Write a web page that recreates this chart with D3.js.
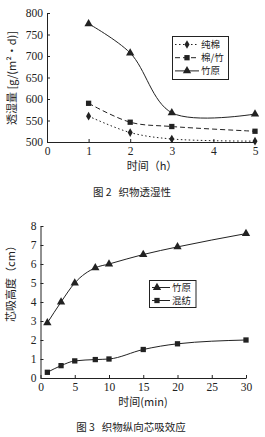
<!DOCTYPE html>
<html><head><meta charset="utf-8">
<script src="https://cdn.jsdelivr.net/npm/d3@7"></script>
<style>body{margin:0;background:#fff}svg{display:block}</style>
</head><body>
<script>
// Chart 1 data
const hours = [1, 2, 3, 5];
const cotton = [560, 522, 507, 502];        // 纯棉
const cottonBamboo = [590, 546, 536, 525];  // 棉/竹
const bamboo1 = [775, 707, 568, 565];       // 竹原
const xTicks1 = [0, 1, 2, 3, 4, 5];
const yTicks1 = [500, 550, 600, 650, 700, 750, 800];
// Chart 2 data
const minutes = [1, 3, 5, 8, 10, 15, 20, 30];
const bamboo2 = [2.9, 4.0, 5.0, 5.8, 6.0, 6.5, 6.9, 7.6]; // 竹原
const blend = [0.3, 0.65, 0.9, 0.97, 1.0, 1.5, 1.8, 2.0];  // 混纺
const xTicks2 = [0, 5, 10, 15, 20, 25, 30];
const yTicks2 = [0, 1, 2, 3, 4, 5, 6, 7, 8];

const W = 265, H = 437;
const svg = d3.select("body").append("svg").attr("width", W).attr("height", H);
svg.append("rect").attr("width", W).attr("height", H).attr("fill", "#fff");
const ink = "#222";
const numFont = "'Liberation Serif', 'DejaVu Serif', serif";
const cjkFont = "'Noto Sans CJK SC', sans-serif";

function marker(g, type, x, y) {
  const s = type === "diamond" ? d3.symbolDiamond : type === "square" ? d3.symbolSquare : d3.symbolTriangle;
  const size = type === "diamond" ? 22 : type === "square" ? 28 : 30;
  g.append("path").attr("d", d3.symbol().type(s).size(size)())
    .attr("transform", `translate(${x},${y})`).attr("fill", ink);
}

function axes(g, x, y, xt, yt) {
  const ax = g.append("g").attr("transform", `translate(0,${y.range()[0]})`)
    .call(d3.axisBottom(x).tickValues(xt).tickFormat(d3.format("d")).tickSize(-3).tickSizeOuter(0).tickPadding(5));
  const ay = g.append("g").attr("transform", `translate(${x.range()[0]},0)`)
    .call(d3.axisLeft(y).tickValues(yt).tickFormat(d3.format("d")).tickSize(-3).tickSizeOuter(0).tickPadding(4));
  [ax, ay].forEach(a => {
    a.select(".domain").attr("stroke", ink).attr("stroke-width", 1);
    a.selectAll(".tick line").attr("stroke", ink);
    a.selectAll("text").attr("fill", ink).style("font-family", numFont).style("font-size", "11.5px");
  });
}

function label(g, x, y, txt, size, rot) {
  const t = g.append("text").attr("text-anchor", "middle")
    .style("font-family", cjkFont).style("font-size", size + "px").style("white-space", "pre")
    .attr("fill", ink).text(txt);
  if (rot) t.attr("transform", `translate(${x},${y}) rotate(-90)`);
  else t.attr("x", x).attr("y", y);
  return t;
}

// ---------- Chart 1 ----------
{
  const g = svg.append("g");
  const x = d3.scaleLinear().domain([0, 5]).range([47, 255]);
  const y = d3.scaleLinear().domain([500, 800]).range([142, 13]);
  axes(g, x, y, xTicks1, yTicks1);
  const series = [
    {name: "纯棉", vals: cotton, m: "diamond", dash: "1.5,2.5"},
    {name: "棉/竹", vals: cottonBamboo, m: "square", dash: "5,3"},
    {name: "竹原", vals: bamboo1, m: "triangle", dash: null}
  ];
  const line = d3.line().curve(d3.curveCatmullRom.alpha(0.5)).x((d, i) => x(hours[i])).y(d => y(d));
  series.forEach(s => {
    g.append("path").attr("d", line(s.vals)).attr("fill", "none").attr("stroke", ink)
      .attr("stroke-width", 1).attr("stroke-dasharray", s.dash);
    s.vals.forEach((v, i) => marker(g, s.m, x(hours[i]), y(v)));
  });
  // legend
  const lg = g.append("g");
  lg.append("rect").attr("x", 172.5).attr("y", 36.5).attr("width", 56).attr("height", 43)
    .attr("fill", "#fff").attr("stroke", ink).attr("stroke-width", 1);
  series.forEach((s, i) => {
    const yy = 44.5 + i * 13.2;
    lg.append("line").attr("x1", 175).attr("x2", 199).attr("y1", yy).attr("y2", yy)
      .attr("stroke", ink).attr("stroke-dasharray", s.dash);
    marker(lg, s.m, 187, yy);
    lg.append("text").attr("x", 201).attr("y", yy + 3.3).text(s.name)
      .style("font-family", cjkFont).style("font-size", "9.5px").attr("fill", ink);
  });
  label(g, 16, 78, "透湿量 [g/(m²·d)]", 11, true);
  label(g, 152, 170, "时间（h）", 11);
  label(g, 132, 196, "图 2   织物透湿性", 10.5);
}

// ---------- Chart 2 ----------
{
  const g = svg.append("g");
  const x = d3.scaleLinear().domain([0, 30]).range([40.5, 246]);
  const y = d3.scaleLinear().domain([0, 8]).range([378, 226]);
  axes(g, x, y, xTicks2, yTicks2);
  const series = [
    {name: "竹原", vals: bamboo2, m: "triangle"},
    {name: "混纺", vals: blend, m: "square"}
  ];
  const line = d3.line().curve(d3.curveMonotoneX).x((d, i) => x(minutes[i])).y(d => y(d));
  series.forEach(s => {
    g.append("path").attr("d", line(s.vals)).attr("fill", "none").attr("stroke", ink).attr("stroke-width", 1);
    s.vals.forEach((v, i) => marker(g, s.m, x(minutes[i]), y(v)));
  });
  const lg = g.append("g");
  lg.append("rect").attr("x", 149.5).attr("y", 280.5).attr("width", 46.5).attr("height", 27)
    .attr("fill", "#fff").attr("stroke", ink).attr("stroke-width", 1);
  series.forEach((s, i) => {
    const yy = 287.5 + i * 13;
    lg.append("line").attr("x1", 152).attr("x2", 170).attr("y1", yy).attr("y2", yy).attr("stroke", ink);
    marker(lg, s.m, 157, yy);
    lg.append("text").attr("x", 172).attr("y", yy + 3.3).text(s.name)
      .style("font-family", cjkFont).style("font-size", "9.5px").attr("fill", ink);
  });
  label(g, 15, 281, "芯吸高度（cm）", 11, true);
  label(g, 143, 406, "时间(min)", 11);
  label(g, 131, 431, "图 3   织物纵向芯吸效应", 10.5);
}
</script>
</body></html>
